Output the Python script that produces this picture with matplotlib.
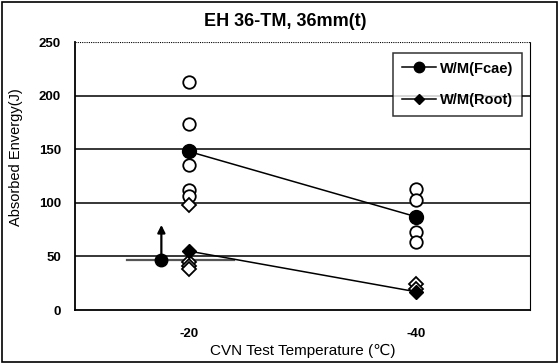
import matplotlib
matplotlib.use("Agg")
import matplotlib.pyplot as plt
from matplotlib.patches import Rectangle

plt.rcParams["font.family"] = ["Liberation Sans", "DejaVu Sans"]

temps = ["-20", "-40"]
face_mean = [148, 87]
root_mean = [55, 17]
face_m20 = [213, 174, 135, 112, 106]
face_m40 = [113, 103, 73, 63]
root_m20 = [98, 45, 41, 38]
root_m40 = [24, 20]
# extra point with an up arrow and a short reference line
extra_x = 0.88
extra_y = 47
extra_arrow_to = 82
ref_y = 47
ref_x = [0.73, 1.20]

pos = [1, 2]

fig = plt.figure(figsize=(5.59, 3.63), dpi=100)
ax = fig.add_axes([0.134, 0.146, 0.814, 0.738])
fig.patches.append(Rectangle((0.004, 0.004), 0.992, 0.99, transform=fig.transFigure,
                             fill=False, lw=1.2, ec="black"))

for y in [50, 100, 150, 200]:
    ax.axhline(y, color="black", lw=1.1, zorder=1)
ax.axhline(250, color="black", lw=0.8, ls=(0, (1, 1)), zorder=1)

ax.plot(ref_x, [ref_y, ref_y], color="#555555", lw=1.6, zorder=2)

# individual values (open markers)
ax.plot([pos[0]] * len(face_m20), face_m20, "o", mfc="white", mec="black", ms=9, mew=1.3, zorder=3)
ax.plot([pos[1]] * len(face_m40), face_m40, "o", mfc="white", mec="black", ms=9, mew=1.3, zorder=3)
ax.plot([pos[0]] * len(root_m20), root_m20, "D", mfc="white", mec="black", ms=7, mew=1.3, zorder=3)
ax.plot([pos[1]] * len(root_m40), root_m40, "D", mfc="white", mec="black", ms=7, mew=1.3, zorder=3)

# averages
ax.plot(pos, face_mean, "-o", color="black", lw=1.1, ms=10, label="W/M(Fcae)", zorder=4)
ax.plot(pos, root_mean, "-D", color="black", lw=1.1, ms=7, label="W/M(Root)", zorder=4)

ax.plot([extra_x], [extra_y], "o", color="black", ms=9, zorder=4)
ax.annotate("", xy=(extra_x, extra_arrow_to), xytext=(extra_x, extra_y),
            arrowprops=dict(arrowstyle="-|>", color="black", lw=1.6, mutation_scale=11), zorder=4)

ax.set_xlim(0.5, 2.5)
ax.set_ylim(0, 250)
ax.set_xticks(pos)
ax.set_xticklabels(temps, fontweight="bold", fontsize=9.5)
ax.set_yticks([0, 50, 100, 150, 200, 250])
ax.set_yticklabels(["0", "50", "100", "150", "200", "250"], fontweight="bold", fontsize=9.5)
ax.tick_params(axis="x", length=0, pad=13)
ax.tick_params(axis="y", length=0, pad=10)

ax.spines["top"].set_visible(False)
ax.spines["right"].set_linestyle((0, (1, 1)))
ax.spines["right"].set_linewidth(0.8)
ax.spines["left"].set_linewidth(1.3)
ax.spines["bottom"].set_linewidth(1.3)

fig.text(285 / 559, 1 - 22 / 363, "EH 36-TM, 36mm(t)", fontweight="bold", fontsize=13,
         ha="center", va="center")
ax.set_xlabel("CVN Test Temperature (\u2103)", fontsize=11, labelpad=3)
ax.set_ylabel("Absorbed Envergy(J)", fontsize=10.5)
ax.yaxis.set_label_coords(-0.115, 0.57)

leg = ax.legend(loc="upper right", bbox_to_anchor=(0.983, 0.96), frameon=True, fancybox=False,
                edgecolor="black", prop={"weight": "bold", "size": 10.5}, handlelength=2.3,
                handletextpad=0.3, borderpad=0.6, labelspacing=1.2, markerscale=0.75,
                borderaxespad=0)
leg.get_frame().set_linewidth(1.1)

fig.savefig("out.png", dpi=100)
